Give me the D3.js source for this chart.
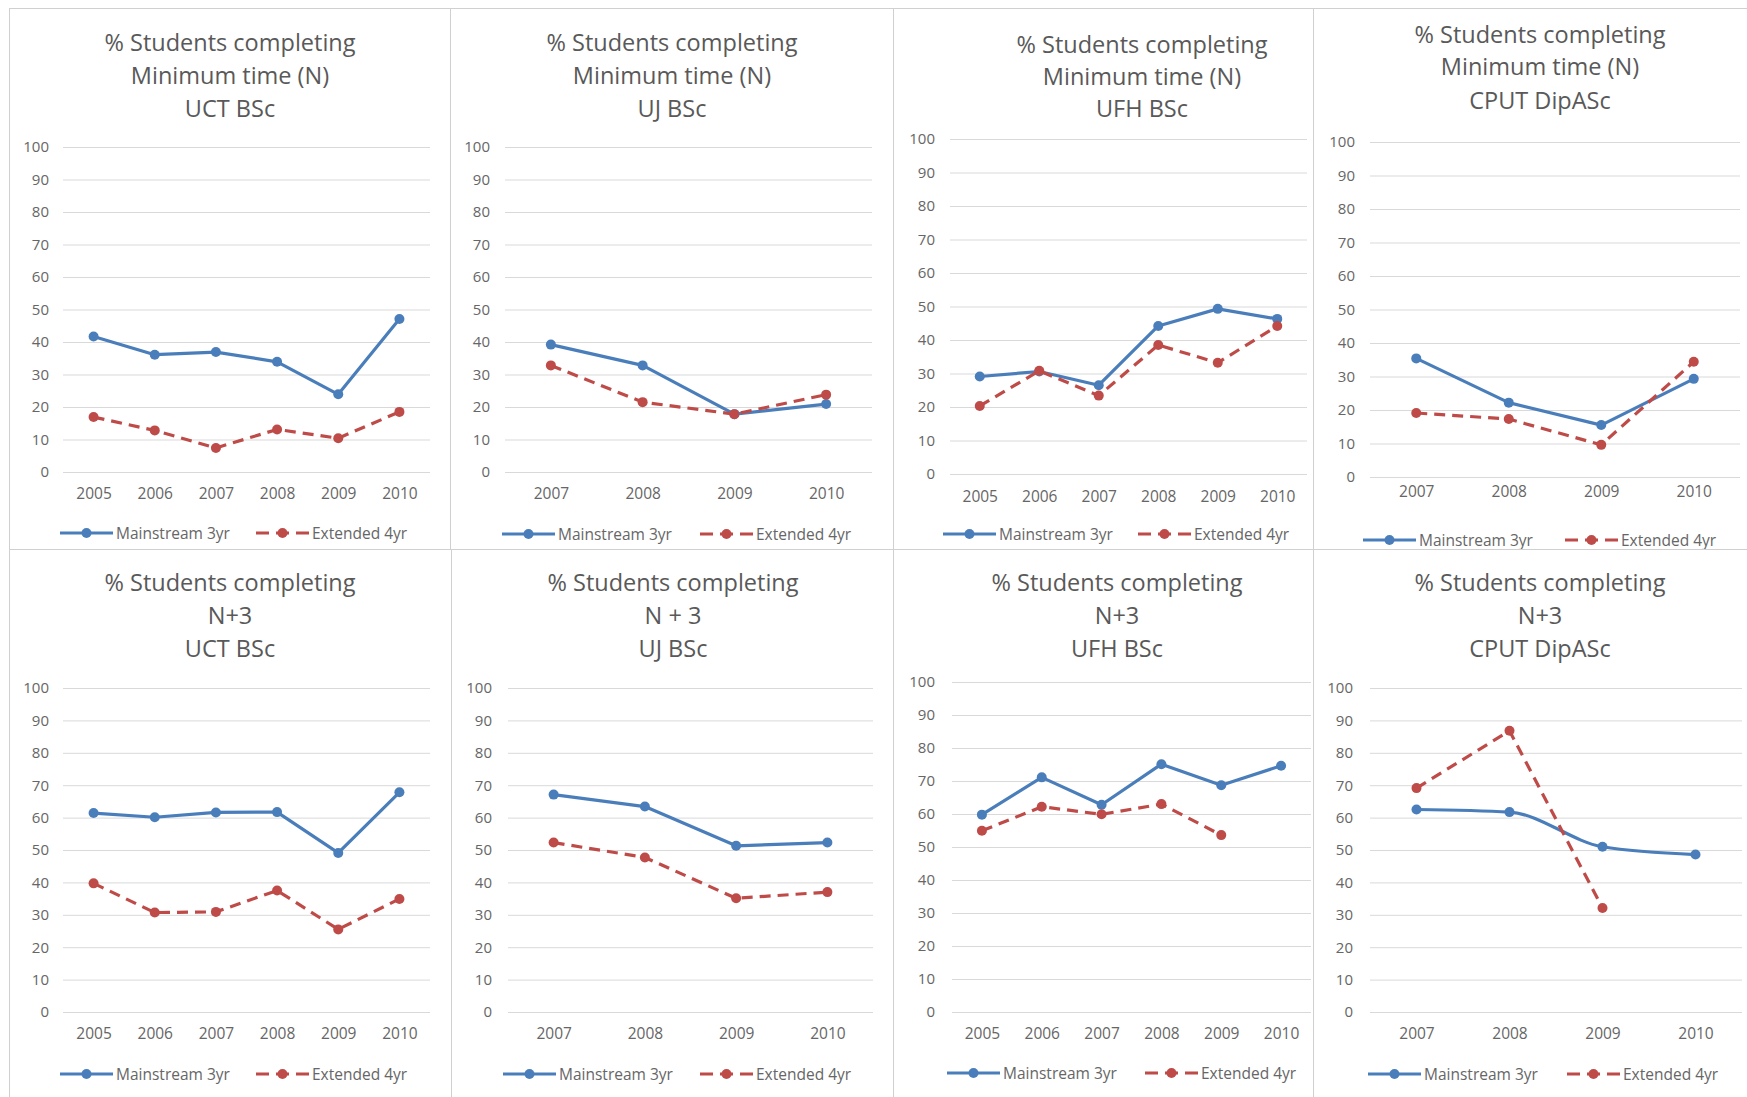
<!DOCTYPE html>
<html>
<head>
<meta charset="utf-8">
<script src="https://cdn.jsdelivr.net/npm/d3@7"></script>
<style>
  html, body { margin: 0; padding: 0; background: #ffffff; }
  svg { display: block; }
</style>
</head>
<body>
<svg id="chart" width="1747" height="1097"></svg>
<script>
// ---- Data ----------------------------------------------------------
const yearsSix  = ["2005", "2006", "2007", "2008", "2009", "2010"];
const yearsFour = ["2007", "2008", "2009", "2010"];
const yTicks = [0, 10, 20, 30, 40, 50, 60, 70, 80, 90, 100];
const seriesNames = ["Mainstream 3yr", "Extended 4yr"];

const titles = [
  ["% Students completing", "Minimum time (N)", "UCT BSc"],
  ["% Students completing", "Minimum time (N)", "UJ BSc"],
  ["% Students completing", "Minimum time (N)", "UFH BSc"],
  ["% Students completing", "Minimum time (N)", "CPUT DipASc"],
  ["% Students completing", "N+3", "UCT BSc"],
  ["% Students completing", "N + 3", "UJ BSc"],
  ["% Students completing", "N+3", "UFH BSc"],
  ["% Students completing", "N+3", "CPUT DipASc"]
];

// Minimum time (N)
const uctMinMain = [41.7, 36.1, 36.9, 33.9, 23.9, 47.1];
const uctMinExt  = [16.9, 12.8, 7.4, 13.1, 10.4, 18.5];
const ujMinMain  = [39.2, 32.8, 17.8, 20.9];
const ujMinExt   = [32.8, 21.5, 17.8, 23.8];
const ufhMinMain = [29.1, 30.6, 26.5, 44.2, 49.3, 46.3];
const ufhMinExt  = [20.3, 30.8, 23.4, 38.5, 33.2, 44.2];
const cputMinMain = [35.4, 22.2, 15.5, 29.3];
const cputMinExt  = [19.1, 17.3, 9.6, 34.4];

// N+3
const uctN3Main = [61.4, 60.1, 61.6, 61.7, 49.1, 67.8];
const uctN3Ext  = [39.7, 30.7, 30.9, 37.5, 25.5, 34.9];
const ujN3Main  = [67.1, 63.4, 51.3, 52.3];
const ujN3Ext   = [52.3, 47.7, 35.1, 37.0];
const ufhN3Main = [59.8, 71.1, 62.8, 75.1, 68.7, 74.6];
const ufhN3Ext  = [54.9, 62.2, 59.9, 63.0, 53.6, null];
const cputN3Main = [62.5, 61.7, 51.0, 48.6];
const cputN3Ext  = [69.1, 86.8, 32.1, null];

const panelYears = [yearsSix, yearsFour, yearsSix, yearsFour, yearsSix, yearsFour, yearsSix, yearsFour];
const panelMain = [uctMinMain, ujMinMain, ufhMinMain, cputMinMain, uctN3Main, ujN3Main, ufhN3Main, cputN3Main];
const panelExt  = [uctMinExt, ujMinExt, ufhMinExt, cputMinExt, uctN3Ext, ujN3Ext, ufhN3Ext, cputN3Ext];

// ---- Layout (one entry per small chart) ----------------------------
// box: frame; gx: plot left/right; gy: y of 100 / y of 0; tcx: title centre;
// ty: title line centres; yl: right edge of y labels; xl: x label centre y;
// ly: legend centre y; lb/lr: legend sample starts; smooth: smoothed mainstream line
const layout = [
  {box:[9,8,450,549],      gx:[63,430],    gy:[147,472], tcx:230,  ty:[42,75,108], yl:49,   xl:494,  ly:533,  lb:60,   lr:256,  smooth:false},
  {box:[450,8,893,549],    gx:[505,872],   gy:[147,472], tcx:672,  ty:[42,75,108], yl:490,  xl:494,  ly:534,  lb:502,  lr:700,  smooth:false},
  {box:[893,8,1313,549],   gx:[950,1307],  gy:[139,474], tcx:1142, ty:[44,76,108], yl:935,  xl:497,  ly:534,  lb:943,  lr:1138, smooth:false},
  {box:[1313,8,1747,549],  gx:[1370,1740], gy:[142,477], tcx:1540, ty:[34,66,100], yl:1355, xl:492,  ly:540,  lb:1363, lr:1565, smooth:false},
  {box:[9,549,451,1097],   gx:[63,430],    gy:[688,1012], tcx:230,  ty:[582,615,648], yl:49,  xl:1034, ly:1074, lb:60,   lr:256,  smooth:false},
  {box:[451,549,893,1097], gx:[508,873],   gy:[688,1012], tcx:673,  ty:[582,615,648], yl:492, xl:1034, ly:1074, lb:503,  lr:700,  smooth:false},
  {box:[893,549,1313,1097],gx:[952,1311],  gy:[682,1012], tcx:1117, ty:[582,615,648], yl:935, xl:1034, ly:1073, lb:947,  lr:1145, smooth:false},
  {box:[1313,549,1747,1097],gx:[1370,1742],gy:[688,1012], tcx:1540, ty:[582,615,648], yl:1353,xl:1034, ly:1074, lb:1368, lr:1567, smooth:true}
];

// ---- Styles --------------------------------------------------------
const FONT = "'Open Sans', 'DejaVu Sans', sans-serif";
const BLUE = "#4a7ebb";
const RED = "#be4b48";
const GRID = "#d9d9d9";
const FRAME = "#d0d0d0";
const TEXT = "#595959";
const TICK_TEXT = "#666666";
const LINE_W = 3.2;
const DASH = "11,7";
const MARKER_R = 5;

const svg = d3.select("#chart");
svg.append("rect").attr("width", 1747).attr("height", 1097).attr("fill", "#fff");

function drawPanel(i) {
  const L = layout[i];
  const years = panelYears[i];
  const g = svg.append("g").attr("class", "panel");

  // frame
  const [bx0, by0, bx1, by1] = L.box;
  g.append("rect")
    .attr("x", bx0 + 0.5).attr("y", by0 + 0.5)
    .attr("width", bx1 - bx0).attr("height", by1 - by0)
    .attr("fill", "none").attr("stroke", FRAME).attr("stroke-width", 1);

  // title
  g.append("g").selectAll("text").data(titles[i]).join("text")
    .attr("x", L.tcx).attr("y", (d, k) => L.ty[k])
    .attr("text-anchor", "middle").attr("dominant-baseline", "central")
    .attr("font-family", FONT).attr("font-size", 23.5).attr("fill", TEXT)
    .text(d => d);

  const x = d3.scalePoint().domain(years).range(L.gx).padding(0.5);
  const y = d3.scaleLinear().domain([0, 100]).range([L.gy[1], L.gy[0]]);

  // y axis with horizontal gridlines
  const yAxis = g.append("g")
    .attr("transform", `translate(${L.gx[0]},0)`)
    .call(d3.axisLeft(y).tickValues(yTicks)
      .tickSize(-(L.gx[1] - L.gx[0]))
      .tickPadding(L.gx[0] - L.yl));
  yAxis.select(".domain").remove();
  yAxis.selectAll(".tick line").attr("stroke", GRID).attr("stroke-width", 1);
  yAxis.selectAll(".tick text")
    .attr("font-family", FONT).attr("font-size", 15).attr("fill", TICK_TEXT);

  // x axis labels
  const xAxis = g.append("g")
    .attr("transform", `translate(0,${L.gy[1]})`)
    .call(d3.axisBottom(x).tickSize(0));
  xAxis.select(".domain").remove();
  xAxis.selectAll(".tick text")
    .attr("y", L.xl - L.gy[1]).attr("dy", "0.35em")
    .attr("font-family", FONT).attr("font-size", 15.5).attr("fill", TICK_TEXT);

  // series
  const series = [
    {values: panelMain[i], color: BLUE, dash: null, curve: L.smooth ? d3.curveMonotoneX : d3.curveLinear},
    {values: panelExt[i], color: RED, dash: DASH, curve: d3.curveLinear}
  ];
  series.forEach(s => {
    const pts = years.map((yr, k) => ({yr, v: s.values[k]}));
    const line = d3.line()
      .defined(d => d.v != null)
      .x(d => x(d.yr)).y(d => y(d.v))
      .curve(s.curve);
    g.append("path").datum(pts)
      .attr("d", line)
      .attr("fill", "none").attr("stroke", s.color)
      .attr("stroke-width", LINE_W)
      .attr("stroke-linejoin", "round")
      .attr("stroke-dasharray", s.dash);
    g.append("g").selectAll("circle").data(pts.filter(d => d.v != null)).join("circle")
      .attr("cx", d => x(d.yr)).attr("cy", d => y(d.v))
      .attr("r", MARKER_R).attr("fill", s.color);
  });

  // legend
  const legendItems = [
    {name: seriesNames[0], color: BLUE, dash: null, x0: L.lb},
    {name: seriesNames[1], color: RED, dash: DASH, x0: L.lr}
  ];
  legendItems.forEach(it => {
    const lg = g.append("g");
    lg.append("line")
      .attr("x1", it.x0).attr("x2", it.x0 + 53)
      .attr("y1", L.ly).attr("y2", L.ly)
      .attr("stroke", it.color).attr("stroke-width", LINE_W)
      .attr("stroke-dasharray", it.dash ? "13,7" : null);
    lg.append("circle")
      .attr("cx", it.x0 + 26.5).attr("cy", L.ly).attr("r", MARKER_R).attr("fill", it.color);
    lg.append("text")
      .attr("x", it.x0 + 56).attr("y", L.ly).attr("dominant-baseline", "central")
      .attr("font-family", FONT).attr("font-size", 15.5).attr("fill", TICK_TEXT)
      .text(it.name);
  });
}

for (let i = 0; i < layout.length; i++) drawPanel(i);
</script>
</body>
</html>
